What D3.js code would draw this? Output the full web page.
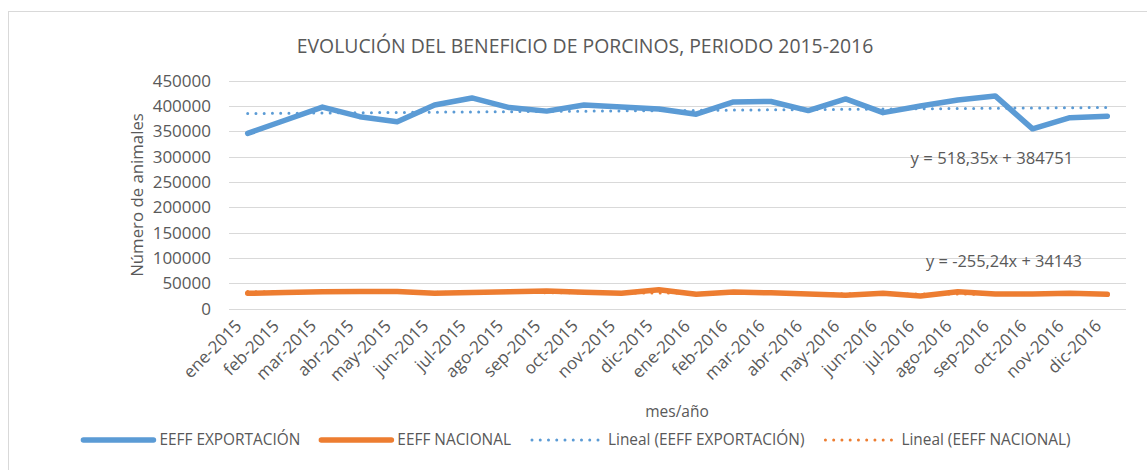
<!DOCTYPE html>
<head>
  <meta charset="utf-8">
  <script src="https://d3js.org/d3.v7.min.js"></script>
  <style>
    body { margin: 0; background: #fff; }
    text { font-family: 'Open Sans', sans-serif; fill: #595959; }
    .grid line { stroke: #d9d9d9; stroke-width: 1; }
  </style>
</head>
<body>
  <div id="chart"></div>
  <script>
    // months shown on the x axis
    var months = ['ene-2015', 'feb-2015', 'mar-2015', 'abr-2015', 'may-2015', 'jun-2015',
      'jul-2015', 'ago-2015', 'sep-2015', 'oct-2015', 'nov-2015', 'dic-2015',
      'ene-2016', 'feb-2016', 'mar-2016', 'abr-2016', 'may-2016', 'jun-2016',
      'jul-2016', 'ago-2016', 'sep-2016', 'oct-2016', 'nov-2016', 'dic-2016'];

    var exportacion = [346000, 372000, 398000, 379000, 369000, 402000, 416000, 397000,
      390000, 402000, 398000, 394000, 384000, 408000, 409000, 391000, 414000, 387000,
      400000, 412000, 420000, 355000, 377000, 380000];

    var nacional = [30600, 32000, 33500, 34000, 34000, 30800, 32000, 33700, 35100,
      32500, 30500, 37500, 28600, 33000, 31500, 29200, 26600, 30500, 25200, 33700,
      29200, 29200, 30600, 28600];

    var yTicks = [0, 50000, 100000, 150000, 200000, 250000, 300000, 350000, 400000, 450000];

    // excel trendline coefficients (x = 1..24)
    var trendSlope = [518.35, -255.24];
    var trendIntercept = [384751, 34143];
    var trendLabels = ['y = 518,35x + 384751', 'y = -255,24x + 34143'];

    var legendNames = ['EEFF EXPORTACIÓN', 'EEFF NACIONAL', 'Lineal (EEFF EXPORTACIÓN)', 'Lineal (EEFF NACIONAL)'];
    var colors = ['#5b9bd5', '#ed7d31'];

    var w = 1147, h = 470;
    var svg = d3.select('#chart').append('svg').attr('width', w).attr('height', h);

    // chart frame
    svg.append('rect').attr('x', 8.5).attr('y', 11.5).attr('width', 1160).attr('height', 480)
      .attr('fill', 'none').attr('stroke', '#d9d9d9').attr('stroke-width', 1);

    var x = d3.scaleBand().domain(months).range([229, 1126]);
    var y = d3.scaleLinear().domain([0, 450000]).range([308.8, 80.7]);
    var cx = function (m) { return x(m) + x.bandwidth() / 2; };

    svg.append('text')
      .attr('x', 585).attr('y', 53)
      .attr('text-anchor', 'middle')
      .style('font-size', '19.4px')
      .text('EVOLUCIÓN DEL BENEFICIO DE PORCINOS, PERIODO 2015-2016');

    var grid = svg.append('g').attr('class', 'grid');
    grid.selectAll('line').data(yTicks).enter().append('line')
      .attr('x1', 229).attr('x2', 1126)
      .attr('y1', function (d) { return Math.round(y(d)) + 0.5; })
      .attr('y2', function (d) { return Math.round(y(d)) + 0.5; });

    var yAxis = d3.axisLeft(y).tickValues(yTicks).tickSize(0).tickPadding(0)
      .tickFormat(function (d) { return d; });
    var gy = svg.append('g').attr('transform', 'translate(211,0)').call(yAxis);
    gy.select('.domain').remove();
    gy.selectAll('text').style('font-size', '17px').attr('fill', '#595959').attr('font-family', null);

    var xAxis = d3.axisBottom(x).tickSize(0).tickPadding(0);
    var gx = svg.append('g').attr('transform', 'translate(0,310)').call(xAxis);
    gx.select('.domain').remove();
    gx.selectAll('text')
      .style('font-size', '17px').attr('fill', '#595959').attr('font-family', null)
      .attr('text-anchor', 'end')
      .attr('dy', null)
      .attr('transform', 'translate(-5,17) rotate(-45)');

    svg.append('text')
      .attr('transform', 'translate(143,195) rotate(-90)')
      .attr('text-anchor', 'middle')
      .style('font-size', '16.8px')
      .text('Número de animales');

    svg.append('text')
      .attr('x', 677).attr('y', 417)
      .attr('text-anchor', 'middle')
      .style('font-size', '15.5px')
      .text('mes/año');

    var line = d3.line()
      .x(function (d, i) { return cx(months[i]); })
      .y(function (d) { return y(d); });

    [exportacion, nacional].forEach(function (s, k) {
      svg.append('path').datum(s)
        .attr('d', line)
        .attr('fill', 'none')
        .attr('stroke', colors[k])
        .attr('stroke-width', 5.5)
        .attr('stroke-linejoin', 'round')
        .attr('stroke-linecap', 'round');
    });

    // trendlines
    trendSlope.forEach(function (m, k) {
      var pts = [1, months.length].map(function (i) {
        return [cx(months[i - 1]), y(m * i + trendIntercept[k])];
      });
      svg.append('path')
        .attr('d', d3.line()(pts))
        .attr('fill', 'none')
        .attr('stroke', colors[k])
        .attr('stroke-width', 3)
        .attr('stroke-linecap', 'round')
        .attr('stroke-dasharray', '0 8.25');
    });

    svg.append('text').attr('x', 992).attr('y', y(285000))
      .attr('text-anchor', 'middle').style('font-size', '16.7px').text(trendLabels[0]);
    svg.append('text').attr('x', 1004).attr('y', y(82000))
      .attr('text-anchor', 'middle').style('font-size', '16.4px').text(trendLabels[1]);

    // legend
    var lg = svg.append('g');
    var lx = 0;
    legendNames.forEach(function (name, i) {
      var g = lg.append('g').attr('transform', 'translate(' + lx + ',0)');
      var ln = g.append('line').attr('x1', 0).attr('x2', 70).attr('y1', 0).attr('y2', 0)
        .attr('stroke', colors[i % 2]).attr('stroke-linecap', 'round');
      if (i < 2) ln.attr('stroke-width', 5.5);
      else ln.attr('stroke-width', 3).attr('stroke-dasharray', '0 8.25');
      var t = g.append('text').attr('x', 76).attr('y', 0).attr('dy', '0.35em')
        .style('font-size', '15.4px').text(name);
      lx += 76 + t.node().getComputedTextLength() + 21;
    });
    var lw = lx - 21;
    lg.attr('transform', 'translate(' + (577 - lw / 2) + ',440)');
  </script>
</body>
</html>
